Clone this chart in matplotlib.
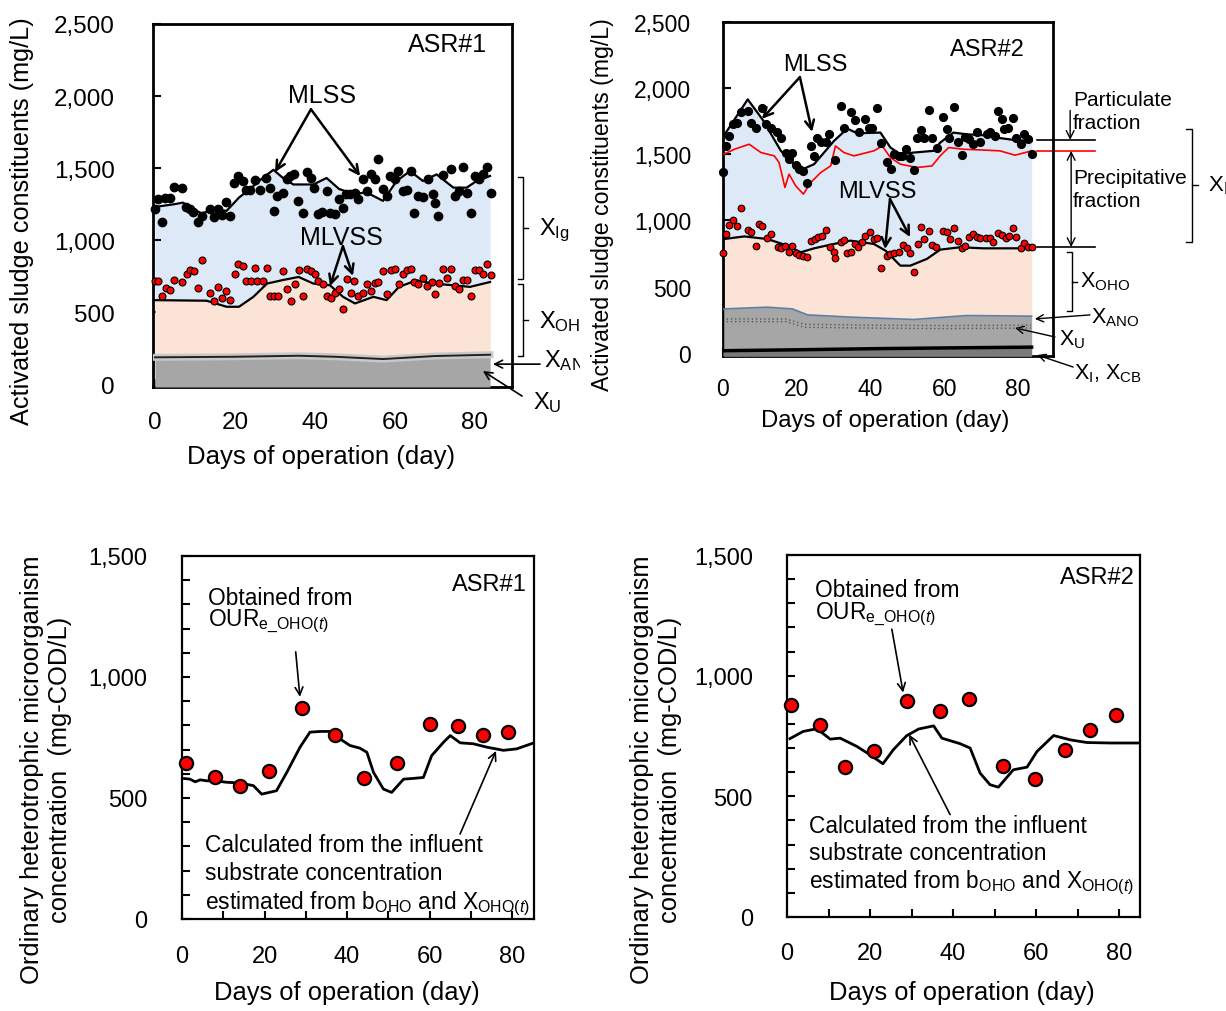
import matplotlib.pyplot as plt
from matplotlib.ticker import FuncFormatter, MultipleLocator
from matplotlib.transforms import Bbox, TransformedBbox

plt.rcParams['font.family'] = ['Liberation Sans', 'DejaVu Sans']
plt.rcParams['mathtext.fontset'] = 'custom'
plt.rcParams['mathtext.rm'] = 'Liberation Sans'
plt.rcParams['mathtext.it'] = 'Liberation Sans:italic'
plt.rcParams['mathtext.default'] = 'regular'

W, H = 1226, 1012
BLUE = '#dde9f6'
PEACH = '#fbe4d6'
GRAY = '#a6a6a6'

# ---------------- ASR#1, sludge constituents ----------------
mlss1_pt_day = [0.0, 0.8, 1.7, 2.5, 3.75, 4.8, 6.7, 7.75, 8.75, 9.6, 10.8, 11.7, 13.75, 14.75, 15.8,
                16.7, 17.75, 18.75, 19.75, 20.8, 21.9, 22.75, 23.75, 25.0, 26.25, 27.75, 28.75, 29.75,
                30.6, 31.9, 32.9, 33.75, 34.75, 35.8, 36.9, 37.9, 38.9, 39.75, 40.8, 41.7, 42.9, 43.75,
                45.0, 46.1, 46.9, 47.75, 48.75, 50.0, 50.8, 51.9, 53.1, 53.9, 55.0, 55.8, 56.9, 58.1,
                58.75, 60.0, 60.8, 62.1, 62.9, 63.9, 64.75, 65.8, 67.1, 68.3, 69.4, 70.0, 70.8, 71.9,
                73.9, 75.0, 76.1, 76.9, 77.9, 79.0, 80.0, 81.1, 82.1, 82.9, 83.9]
mlss1_pt_val = [1214, 1283, 1123, 1290, 1295, 1368, 1364, 1231, 1214, 1198, 1123, 1168, 1219, 1157, 1214,
                1175, 1265, 1168, 1398, 1444, 1410, 1345, 1345, 1414, 1345, 1433, 1364, 1203,
                1306, 1329, 1421, 1444, 1460, 1272, 1185, 1474, 1433, 1364, 1180, 1198, 1341, 1185,
                1180, 1283, 1226, 1318, 1318, 1329, 1283, 1421, 1341, 1460, 1421, 1563, 1352, 1306,
                1444, 1421, 1478, 1341, 1345, 1478, 1185, 1306, 1299, 1421, 1318, 1260, 1168, 1455,
                1494, 1306, 1341, 1506, 1329, 1185, 1444, 1421, 1460, 1508, 1325]
mlvss1_pt_day = [0.0, 0.8, 1.7, 2.75, 3.75, 4.8, 6.7, 7.9, 8.75, 9.75, 10.8, 11.8, 13.75, 14.75, 15.8,
                 16.7, 17.75, 18.75, 19.9, 20.8, 21.9, 22.75, 23.9, 25.0, 25.6, 26.9, 27.9, 28.75,
                 29.75, 30.8, 31.9, 32.9, 33.9, 35.0, 36.0, 36.9, 37.9, 38.9, 40.0, 40.8, 41.9, 42.9,
                 43.9, 45.0, 46.1, 46.9, 47.9, 48.9, 49.8, 50.8, 51.9, 52.9, 53.9, 55.0, 55.8, 56.9,
                 57.9, 58.9, 60.0, 61.1, 62.1, 62.9, 63.9, 64.75, 65.8, 66.9, 67.9, 69.2, 70.0, 71.1,
                 71.9, 72.9, 73.9, 75.0, 76.1, 76.9, 77.9, 79.0, 80.0, 81.1, 82.1, 82.9, 83.9]
mlvss1_pt_val = [716, 716, 611, 670, 652, 721, 709, 767, 794, 785, 670, 859, 634, 579, 675,
                 595, 647, 583, 767, 831, 822, 716, 716, 804, 716, 716, 804, 611,
                 611, 611, 783, 657, 579, 698, 794, 611, 801, 785, 767, 716, 698, 611,
                 601, 634, 663, 523, 732, 634, 716, 611, 634, 693, 647, 702, 709, 785,
                 629, 790, 801, 693, 767, 790, 801, 709, 698, 739, 679, 709, 629, 702,
                 801, 739, 801, 679, 657, 721, 721, 611, 790, 794, 767, 836, 755]
mlss1_line_day = [0, 4.6, 7, 9.6, 11.7, 14.6, 17.9, 21, 23.75, 26, 29.6, 32, 34.6, 39.6, 42.9, 46,
                  49.6, 52.9, 57, 60.4, 63.75, 67, 70.4, 74.6, 77.9, 80.4, 83.75]
mlss1_line_val = [1230, 1248, 1260, 1214, 1185, 1214, 1203, 1295, 1355, 1410, 1488, 1431, 1386, 1386,
                  1431, 1355, 1320, 1331, 1272, 1410, 1479, 1410, 1456, 1364, 1364, 1410, 1445]
mlvss1_line_day = [0, 12.9, 17.9, 21, 24.6, 28, 31.7, 35.9, 39.6, 43.75, 47, 50, 54.6, 57.9, 61,
                   65.4, 69.6, 74.6, 78.75, 83.75]
mlvss1_line_val = [583, 579, 537, 537, 606, 698, 721, 744, 698, 686, 606, 560, 606, 583, 675,
                   721, 698, 686, 675, 709]
xu1_day = [0, 20, 36, 45, 57, 70, 83.75]
xu1_val = [186, 190, 197, 190, 174, 195, 204]

# ---------------- ASR#2, sludge constituents ----------------
mlss2_pt_day = [0.0, 0.8, 1.7, 2.6, 3.8, 4.9, 6.7, 7.6, 9.0, 10.7, 11.6, 13.0, 14.6, 15.7, 17.0,
                17.9, 18.8, 19.7, 20.6, 21.8, 22.7, 23.8, 24.7, 25.6, 26.7, 27.8, 28.7, 30.5, 31.9,
                32.8, 34.6, 35.7, 36.8, 38.6, 39.5, 40.4, 41.8, 42.9, 44.5, 45.6, 46.3, 47.7, 48.6,
                49.7, 50.8, 51.7, 52.6, 53.7, 54.6, 55.8, 56.7, 58.0, 59.6, 60.7, 61.2, 62.7, 63.6,
                64.8, 65.7, 66.8, 67.9, 68.8, 69.7, 71.5, 72.4, 73.8, 74.7, 75.6, 76.2, 77.4, 78.7,
                79.6, 80.7, 81.6, 82.8, 83.7]
mlss2_pt_val = [1367, 1563, 1639, 1727, 1734, 1820, 1827, 1739, 1702, 1852, 1727, 1702, 1669, 1626, 1513,
                1463, 1513, 1417, 1387, 1375, 1282, 1563, 1488, 1626, 1593, 1593, 1651, 1458, 1865,
                1702, 1820, 1759, 1669, 1769, 1702, 1702, 1852, 1588, 1438, 1392, 1500, 1488, 1488,
                1543, 1475, 1382, 1626, 1684, 1626, 1835, 1626, 1551, 1784, 1689, 1626, 1860, 1593,
                1493, 1634, 1619, 1576, 1669, 1593, 1651, 1669, 1639, 1827, 1764, 1694, 1702, 1777,
                1626, 1576, 1651, 1614, 1500]
mlvss2_pt_day = [0.0, 0.8, 1.7, 2.6, 3.8, 4.9, 6.7, 7.6, 9.0, 9.8, 10.7, 11.9, 13.0, 14.9, 15.8,
                 16.7, 17.9, 18.8, 19.7, 20.6, 21.8, 22.7, 23.8, 24.9, 25.8, 26.9, 27.8, 29.0, 30.1,
                 30.5, 31.9, 32.8, 33.7, 34.6, 35.7, 36.6, 37.8, 38.6, 39.8, 40.9, 41.8, 42.9, 44.5,
                 45.4, 46.5, 47.7, 48.8, 49.9, 50.8, 51.7, 52.8, 53.7, 54.6, 55.8, 56.7, 57.8, 59.6,
                 60.7, 61.6, 62.7, 63.6, 64.8, 65.7, 66.8, 67.9, 68.8, 69.7, 71.3, 72.4, 73.3, 74.7,
                 75.6, 76.8, 77.7, 78.7, 79.6, 80.7, 81.6, 82.8, 83.7]
mlvss2_pt_val = [754, 897, 965, 1005, 955, 1091, 930, 915, 809, 972, 955, 864, 897, 796, 789,
                 804, 764, 804, 754, 739, 729, 721, 847, 859, 872, 884, 930, 796, 764,
                 714, 839, 854, 754, 764, 822, 796, 834, 884, 915, 859, 864, 638, 729,
                 746, 754, 764, 814, 789, 754, 613, 822, 947, 859, 922, 814, 796, 922,
                 915, 859, 940, 847, 789, 804, 872, 897, 872, 864, 864, 864, 839, 905,
                 890, 864, 879, 940, 872, 789, 829, 796, 796]
mlss2_line_day = [0.2, 6.7, 10.7, 15.7, 19.3, 22.0, 24.7, 27.4, 30.1, 33.7, 36.4, 42.7, 45.4, 48.1,
                  51.7, 57.1, 58.9, 62.5, 66.1, 70.6, 74.2, 78.7, 83.7]
mlss2_line_val = [1639, 1915, 1764, 1526, 1425, 1392, 1425, 1513, 1601, 1694, 1659, 1664, 1551, 1500,
                  1513, 1526, 1588, 1664, 1651, 1644, 1626, 1609, 1601]
pss2_line_day = [0.2, 3.1, 7.1, 10.3, 13.9, 15.2, 16.8, 17.9, 19.7, 21.8, 23.8, 26.5, 29.2, 30.5, 32.8,
                 35.5, 40.9, 43.2, 45.4, 48.1, 52.6, 56.7, 58.9, 61.2, 65.2, 69.7, 75.1, 79.2, 83.7]
pss2_line_val = [1500, 1538, 1576, 1513, 1488, 1438, 1249, 1350, 1262, 1199, 1287, 1362, 1412, 1563, 1513,
                 1488, 1526, 1563, 1475, 1425, 1400, 1412, 1488, 1551, 1538, 1533, 1526, 1493, 1526]
mlvss2_line_day = [0.2, 5.8, 12.1, 17.5, 21.1, 24.7, 30.1, 34.6, 40.9, 44.1, 48.1, 50.8, 55.3, 58.9,
                   64.3, 70.6, 79.6, 83.7]
mlvss2_line_val = [859, 879, 859, 809, 759, 789, 822, 847, 822, 771, 658, 658, 709, 779,
                   797, 789, 789, 789]
xu2_day = [0.2, 12.1, 18.8, 22.9, 34.6, 51.7, 66.1, 83.7]
xu2_val = [331, 344, 331, 286, 269, 251, 281, 276]
xu2_dot_day = [1, 17, 22, 40, 60, 83.5]
xu2_dot_hi = [255, 255, 215, 208, 205, 208]
xu2_dot_lo = [235, 235, 192, 186, 182, 186]
xicb2_day = [0, 20, 40, 60, 83.7]
xicb2_val = [15, 22, 30, 36, 42]

# ---------------- OHO concentration ----------------
oho1_day = [1, 8, 14, 21, 29, 37, 44, 52, 60, 67, 73, 79]
oho1_val = [643, 588, 551, 610, 872, 762, 583, 643, 806, 796, 760, 774]
calc1_day = [0.2, 1.9, 3.2, 4.4, 6.0, 8.0, 10.8, 14.1, 17.3, 19.3, 22.9, 25.4, 28.6, 31.0, 33.5, 35.9,
             38.3, 40.7, 43.1, 44.8, 46.4, 48.8, 50.8, 53.7, 56.1, 58.5, 60.5, 63.4, 65.0, 67.4,
             70.6, 73.9, 77.9, 81.1, 85.3]
calc1_val = [581, 578, 567, 575, 571, 571, 565, 562, 551, 516, 530, 606, 710, 772, 775, 775,
             744, 717, 706, 689, 606, 537, 523, 578, 581, 585, 675, 731, 758, 728,
             724, 710, 697, 703, 728]
oho2_day = [0.9, 8.0, 14.0, 21.0, 29.0, 36.9, 43.9, 52.0, 59.8, 67.0, 73.0, 79.2]
oho2_val = [877, 797, 620, 689, 896, 852, 904, 624, 571, 693, 773, 838]
calc2_day = [0.7, 3.9, 7.2, 10.4, 12.8, 16.8, 20.0, 23.1, 25.6, 28.8, 31.7, 35.3, 37.3, 41.7, 44.1,
             46.5, 48.9, 50.9, 54.5, 57.8, 60.2, 64.2, 68.2, 72.2, 77.8, 85.0]
calc2_val = [739, 769, 780, 737, 741, 707, 672, 635, 693, 751, 779, 792, 741, 718, 700,
             596, 548, 538, 610, 621, 686, 752, 734, 723, 721, 721]

fig = plt.figure(figsize=(W / 100, H / 100), dpi=100)


def add_box(left, top, right, bottom):
    return fig.add_axes([left / W, 1 - bottom / H, (right - left) / W, (bottom - top) / H])


def setup(ax, xlim, ylim, ystep, yminor, size, spine_w, xpad, ypad):
    ax.set_xlim(*xlim)
    ax.set_ylim(*ylim)
    ax.set_xticks(range(0, 81, 20))
    ax.xaxis.set_minor_locator(MultipleLocator(10))
    ax.yaxis.set_major_locator(MultipleLocator(ystep))
    if yminor:
        ax.yaxis.set_minor_locator(MultipleLocator(yminor))
    ax.yaxis.set_major_formatter(FuncFormatter(lambda v, p: f'{v:,.0f}'))
    ax.tick_params(which='both', direction='in', length=6, width=1.5)
    ax.tick_params(axis='x', which='major', labelsize=size, pad=xpad)
    ax.tick_params(axis='y', which='major', labelsize=size, pad=ypad)
    for s in ax.spines.values():
        s.set_linewidth(spine_w)


def arrow(ax, start, end, lw=1.8, style='->', ms=16):
    ax.annotate('', xy=end, xytext=start, xycoords='axes fraction', textcoords='axes fraction',
                arrowprops=dict(arrowstyle=style, color='black', lw=lw, mutation_scale=ms,
                                shrinkA=0, shrinkB=0), annotation_clip=False)


def seg(ax, xs, ys, lw=1.0, color='black'):
    ax.plot(xs, ys, color=color, lw=lw, transform=ax.transAxes, clip_on=False)


def bracket(ax, x, top, bottom, d):
    mid = (top + bottom) / 2
    seg(ax, [x - d, x, x, x - d], [top, top, bottom, bottom])
    seg(ax, [x, x + d], [mid, mid])


def note(ax, x, y, s, size, clip=None, **kw):
    t = ax.text(x, y, s, transform=ax.transAxes, fontsize=size, **kw)
    if clip is not None:
        t.set_clip_box(clip)
        t.set_clip_on(True)
    return t


def fig_text(x, y, s, size, **kw):
    fig.text(x / W, 1 - y / H, s, fontsize=size, ha='center', va='center', **kw)


# ---------- top-left: ASR#1 ----------
ax1 = add_box(153, 25, 512, 388)
setup(ax1, (-0.5, 89.25), (-20, 2500), 500, None, 17.5, 2.0, 17.5, 27.5)
ax1.fill_between(mlss1_line_day, -20, mlss1_line_val, color=BLUE, lw=0, zorder=1)
ax1.fill_between(mlvss1_line_day, -20, mlvss1_line_val, color=PEACH, lw=0, zorder=2)
ax1.fill_between(xu1_day, -20, xu1_val, color=GRAY, lw=0, zorder=3)
ax1.plot(xu1_day, xu1_val, color='#c8c8c8', lw=5, zorder=3.5)
ax1.plot(xu1_day, xu1_val, color='#222222', lw=1.4, zorder=4)
ax1.plot(mlss1_line_day, mlss1_line_val, color='black', lw=1.6, zorder=4)
ax1.plot(mlvss1_line_day, mlvss1_line_val, color='black', lw=1.6, zorder=4)
ax1.plot(mlss1_pt_day, mlss1_pt_val, 'o', color='black', ms=6, zorder=5, clip_on=False)
ax1.plot(mlvss1_pt_day, mlvss1_pt_val, 'o', mfc='red', mec='black', mew=0.8, ms=5.0, zorder=5,
         clip_on=False)

note(ax1, 0.819, 0.945, 'ASR#1', 18, ha='center', va='center')
note(ax1, 0.471, 0.804, 'MLSS', 18, ha='center', va='center')
arrow(ax1, (0.44, 0.765), (0.34, 0.592))
arrow(ax1, (0.44, 0.765), (0.577, 0.581))
note(ax1, 0.524, 0.413, 'MLVSS', 18, ha='center', va='center', zorder=6)
arrow(ax1, (0.529, 0.388), (0.493, 0.278))
arrow(ax1, (0.529, 0.388), (0.557, 0.306))

# the right-hand labels of this panel are cut off by the neighbouring panel in the source
clip1 = TransformedBbox(Bbox([[0, 0], [580 / W, 1]]), fig.transFigure)
bracket(ax1, 1.031, 0.579, 0.298, 0.014)
bracket(ax1, 1.031, 0.284, 0.085, 0.014)
note(ax1, 1.075, 0.435, '$X_{Ig}$', 17, clip=clip1, ha='left', va='center')
note(ax1, 1.075, 0.182, '$X_{OHO}$', 17, clip=clip1, ha='left', va='center')
note(ax1, 1.089, 0.075, '$X_{ANO}$', 17, clip=clip1, ha='left', va='center')
arrow(ax1, (1.078, 0.063), (0.947, 0.063), lw=1.2, ms=14)
note(ax1, 1.058, -0.04, '$X_{U}$', 17, ha='left', va='center')
arrow(ax1, (1.028, -0.025), (0.919, 0.044), lw=1.2, ms=14)

# ---------- top-right: ASR#2 ----------
ax2 = add_box(723, 23, 1053, 357)
setup(ax2, (0, 89.5), (-25, 2500), 500, None, 16.5, 2.0, 15, 23)
ax2.fill_between(mlss2_line_day, -25, mlss2_line_val, color=BLUE, lw=0, zorder=1)
ax2.fill_between(mlvss2_line_day, -25, mlvss2_line_val, color=PEACH, lw=0, zorder=2)
ax2.fill_between(xu2_day, -25, xu2_val, color=GRAY, lw=0, zorder=3)
ax2.plot(xu2_day, xu2_val, color='#5b7fa6', lw=1.2, zorder=3.5)
ax2.plot(xu2_dot_day, xu2_dot_hi, color='#555555', lw=1.0, ls=(0, (1, 2)), zorder=3.5)
ax2.plot(xu2_dot_day, xu2_dot_lo, color='#555555', lw=1.0, ls=(0, (1, 2)), zorder=3.5)
ax2.fill_between(xicb2_day, -25, xicb2_val, color='#7a7a7a', lw=0, zorder=3.6)
ax2.plot(xicb2_day, xicb2_val, color='black', lw=2.5, zorder=4)
ax2.plot(mlss2_line_day, mlss2_line_val, color='black', lw=1.6, zorder=4)
ax2.plot(pss2_line_day, pss2_line_val, color='red', lw=1.2, zorder=4)
ax2.plot(mlvss2_line_day, mlvss2_line_val, color='black', lw=1.6, zorder=4)
ax2.plot(mlss2_pt_day, mlss2_pt_val, 'o', color='black', ms=5.6, zorder=5, clip_on=False)
ax2.plot(mlvss2_pt_day, mlvss2_pt_val, 'o', mfc='red', mec='black', mew=0.8, ms=4.8, zorder=5,
         clip_on=False)

note(ax2, 0.80, 0.919, 'ASR#2', 17, ha='center', va='center')
note(ax2, 0.279, 0.874, 'MLSS', 17, ha='center', va='center')
arrow(ax2, (0.233, 0.835), (0.118, 0.710))
arrow(ax2, (0.233, 0.835), (0.270, 0.671))
note(ax2, 0.467, 0.494, 'MLVSS', 17, ha='center', va='center', zorder=6)
arrow(ax2, (0.506, 0.470), (0.491, 0.320))
arrow(ax2, (0.506, 0.470), (0.567, 0.356))

seg(ax2, [0.952, 1.127], [0.647, 0.647], lw=1.2)
seg(ax2, [0.952, 1.127], [0.614, 0.614], lw=1.2, color='red')
seg(ax2, [0.952, 1.127], [0.326, 0.326], lw=1.2)
arrow(ax2, (1.052, 0.735), (1.052, 0.647), lw=1.0, ms=14)
arrow(ax2, (1.055, 0.614), (1.055, 0.326), lw=1.0, style='<->', ms=14)
note(ax2, 1.061, 0.733, 'Particulate\nfraction', 15, ha='left', va='center', linespacing=1.3)
note(ax2, 1.061, 0.50, 'Precipitative\nfraction', 15, ha='left', va='center', linespacing=1.3)
bracket(ax2, 1.421, 0.680, 0.341, 0.018)
note(ax2, 1.47, 0.509, '$X_{Ig}$', 16, ha='left', va='center')
bracket(ax2, 1.058, 0.311, 0.135, 0.015)
note(ax2, 1.082, 0.225, '$X_{OHO}$', 15.5, ha='left', va='center')
note(ax2, 1.115, 0.117, '$X_{ANO}$', 15.5, ha='left', va='center')
arrow(ax2, (1.112, 0.123), (0.945, 0.111), lw=1.0, ms=13)
note(ax2, 1.018, 0.051, '$X_{U}$', 15.5, ha='left', va='center')
arrow(ax2, (1.006, 0.057), (0.885, 0.084), lw=1.0, ms=13)
note(ax2, 1.064, -0.05, '$X_{I}$, $X_{CB}$', 15.5, ha='left', va='center')
arrow(ax2, (1.061, -0.033), (0.952, 0.003), lw=1.0, ms=13)

# ---------- bottom-left: OHO ASR#1 ----------
ax3 = add_box(182, 557, 534, 920)
setup(ax3, (0, 85.3), (0, 1500), 500, 100, 17, 1.6, 19, 25)
ax3.plot(calc1_day, calc1_val, color='black', lw=2.0, zorder=3)
ax3.plot(oho1_day, oho1_val, 'o', mfc='red', mec='black', mew=1.6, ms=9.5, zorder=4, clip_on=False)
note(ax3, 0.98, 0.923, 'ASR#1', 17, ha='right', va='center')
note(ax3, 0.074, 0.887, 'Obtained from', 16.4, ha='left', va='center')
note(ax3, 0.074, 0.822, r'OUR$_{e\_OHO(\mathit{t})}$', 16.4, ha='left', va='center')
arrow(ax3, (0.323, 0.736), (0.335, 0.612), lw=1.2, ms=14)
note(ax3, 0.065, 0.204, 'Calculated from the influent', 16.4, ha='left', va='center')
note(ax3, 0.065, 0.127, 'substrate concentration', 16.4, ha='left', va='center')
note(ax3, 0.065, 0.045, r'estimated from b$_{OHO}$ and X$_{OHO(\mathit{t})}$', 16.4,
     ha='left', va='center')
arrow(ax3, (0.790, 0.234), (0.892, 0.463), lw=1.2, ms=14)

# ---------- bottom-right: OHO ASR#2 ----------
ax4 = add_box(787, 556, 1140, 918)
setup(ax4, (0, 85), (0, 1500), 500, 100, 17, 1.6, 18, 24.5)
ax4.plot(calc2_day, calc2_val, color='black', lw=2.0, zorder=3)
ax4.plot(oho2_day, oho2_val, 'o', mfc='red', mec='black', mew=1.6, ms=9.5, zorder=4, clip_on=False)
note(ax4, 0.986, 0.939, 'ASR#2', 17, ha='right', va='center')
note(ax4, 0.079, 0.906, 'Obtained from', 16.4, ha='left', va='center')
note(ax4, 0.079, 0.838, r'OUR$_{e\_OHO(\mathit{t})}$', 16.4, ha='left', va='center')
arrow(ax4, (0.297, 0.795), (0.329, 0.620), lw=1.2, ms=14)
note(ax4, 0.062, 0.252, 'Calculated from the influent', 16.4, ha='left', va='center')
note(ax4, 0.062, 0.177, 'substrate concentration', 16.4, ha='left', va='center')
note(ax4, 0.062, 0.097, r'estimated from b$_{OHO}$ and X$_{OHO(\mathit{t})}$', 16.4,
     ha='left', va='center')
arrow(ax4, (0.462, 0.283), (0.346, 0.504), lw=1.2, ms=14)

# ---------- axis titles ----------
fig_text(321, 457, 'Days of operation (day)', 18.5)
fig_text(885, 421, 'Days of operation (day)', 17.2)
fig_text(347, 993, 'Days of operation (day)', 18.4)
fig_text(962, 993, 'Days of operation (day)', 18.4)
fig_text(22, 221, 'Activated sludge constituents (mg/L)', 18.2, rotation=90)
fig_text(603, 205, 'Activated sludge constituents (mg/L)', 16.7, rotation=90)
fig_text(46, 770, 'Ordinary heterotrophic microorganism\nconcentration  (mg-COD/L)', 18.4,
         rotation=90, linespacing=1.2)
fig_text(656, 770, 'Ordinary heterotrophic microorganism\nconcentration  (mg-COD/L)', 18.4,
         rotation=90, linespacing=1.2)

fig.savefig('out.png', dpi=100)
